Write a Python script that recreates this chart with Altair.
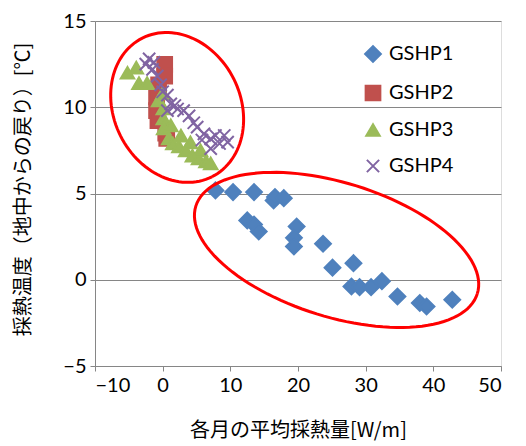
import altair as alt
import numpy as np
import pandas as pd

# ---- data ----
series = ["GSHP1", "GSHP2", "GSHP3", "GSHP4"]
colors = ["#4F81BD", "#C0504D", "#9BBB59", "#8064A2"]

g1_x = [7.8, 10.4, 13.5, 16.4, 16.6, 17.9, 12.5, 13.5, 14.2, 19.8, 19.4, 19.4, 23.7, 25.1, 28.2, 27.9, 29.1, 30.8, 32.4, 34.7, 38.0, 39.0, 42.8]
g1_y = [5.18, 5.08, 5.08, 4.6, 4.8, 4.73, 3.44, 3.2, 2.8, 3.09, 2.43, 1.93, 2.09, 0.7, 0.96, -0.39, -0.43, -0.43, -0.08, -0.97, -1.35, -1.55, -1.16]

g2_x = [0.3, 0.3, -0.6, -0.9, -0.9, -0.7, 0.45, 0.6]
g2_y = [12.48, 11.8, 11.3, 10.6, 9.8, 9.23, 8.5, 8.2]

g3_x = [-5.2, -3.9, -3.5, -2.3, -0.6, 0.0, 0.1, 0.1, 0.15, 0.9, 1.5, 2.4, 3.4, 4.4, 5.3, 6.4, 7.1, 1.2, 2.7, 4.1, 5.6]
g3_y = [12.0, 12.3, 11.4, 11.4, 10.4, 10.8, 9.93, 9.35, 8.77, 8.19, 7.9, 7.73, 7.5, 7.2, 7.03, 6.86, 6.74, 8.95, 8.36, 7.96, 7.5]

g4_x = [-2.5, -2.0, -1.3, -1.5, -0.8, -0.3, 0.0, 0.7, 1.2, 0.7, 1.8, 2.2, 3.1, 3.9, 4.6, 5.1, 6.1, 7.1, 7.8, 9.1, 9.6, 7.1, 5.8, 8.4]
g4_y = [12.5, 12.8, 12.6, 12.2, 11.8, 11.3, 10.9, 10.7, 10.2, 9.8, 10.1, 9.9, 9.8, 9.5, 9.1, 8.85, 8.46, 8.17, 8.36, 8.36, 7.98, 7.6, 8.1, 7.9]

x_ticks = [-10, 0, 10, 20, 30, 40, 50]
y_ticks = [-5, 0, 5, 10, 15]

# annotation ellipses (data units): centre, first and second semi-axis vectors
ell_cx = [2.14, 25.7]
ell_cy = [9.99, 1.73]
ell_a = [(5.14, -4.02), (20.8, -2.54)]
ell_b = [(-8.37, -1.65), (-2.94, -3.71)]

rows = []
for name, xs, ys in zip(series, [g1_x, g2_x, g3_x, g4_x], [g1_y, g2_y, g3_y, g4_y]):
    for xv, yv in zip(xs, ys):
        rows.append({"x": xv, "y": yv, "s": name})
df = pd.DataFrame(rows)

erows = []
t = np.linspace(0, 2 * np.pi, 121)
for i in range(len(ell_cx)):
    for k, tv in enumerate(t):
        erows.append({
            "id": i, "k": k,
            "x": ell_cx[i] + ell_a[i][0] * np.cos(tv) + ell_b[i][0] * np.sin(tv),
            "y": ell_cy[i] + ell_a[i][1] * np.cos(tv) + ell_b[i][1] * np.sin(tv),
        })
edf = pd.DataFrame(erows)

LAT = "Lato, Noto Sans CJK JP"
JP = "Noto Sans CJK JP"
GRID = "#868686"

xscale = alt.Scale(domain=[-10, 50], nice=False, zero=False)
yscale = alt.Scale(domain=[-5, 15], nice=False, zero=False)

xaxis = alt.Axis(values=x_ticks, grid=False, title="各月の平均採熱量[W/m]",
                 titleFont=JP, titleFontSize=20, titleFontWeight="normal", titleColor="#000",
                 titleY=54, labelFont=LAT, labelFontSize=20, labelColor="#000",
                 labelPadding=4, tickSize=5, tickColor=GRID, domainColor=GRID)
yaxis = alt.Axis(values=y_ticks, grid=True, gridColor=GRID, title="採熱温度（地中からの戻り）[℃]",
                 titleFont=JP, titleFontSize=20, titleFontWeight="normal", titleColor="#000",
                 titleX=-62, titleY=168, labelFont=LAT, labelFontSize=20, labelColor="#000",
                 labelPadding=4, tickSize=5, tickColor=GRID, domainColor=GRID)

shapes = ["diamond", "square", "triangle-up", "M-1,-1L1,1M-1,1L1,-1"]
sizes = [250, 150, 330, 380]
cscale = alt.Scale(domain=series, range=colors)
sscale = alt.Scale(domain=series, range=shapes)
zscale = alt.Scale(domain=series, range=sizes)

legend = alt.Legend(title=None, orient="none", legendX=268, legendY=23,
                    labelFont=LAT, labelFontSize=20, labelColor="#000",
                    symbolSize=190, symbolStrokeWidth=2, rowPadding=15, labelOffset=6)

points = alt.Chart(df).mark_point(filled=True, strokeWidth=2, opacity=1).encode(
    x=alt.X("x:Q", scale=xscale, axis=xaxis),
    y=alt.Y("y:Q", scale=yscale, axis=yaxis),
    color=alt.Color("s:N", scale=cscale, legend=legend, sort=series),
    stroke=alt.Stroke("s:N", scale=cscale, legend=legend, sort=series),
    shape=alt.Shape("s:N", scale=sscale, legend=legend, sort=series),
    size=alt.Size("s:N", scale=zscale, legend=None),
)

ellipses = alt.Chart(edf).mark_line(color="#FF0000", strokeWidth=3).encode(
    x="x:Q", y="y:Q", detail="id:N", order="k:Q"
)

chart = alt.layer(points, ellipses).properties(
    width=406, height=345,
    autosize=alt.AutoSizeParams(type="none"),
    padding={"left": 87, "top": 13, "right": 10, "bottom": 80},
).configure_view(stroke=None).configure(background="white")

chart.save("out.html", embed_options={"renderer": "svg", "actions": False})
